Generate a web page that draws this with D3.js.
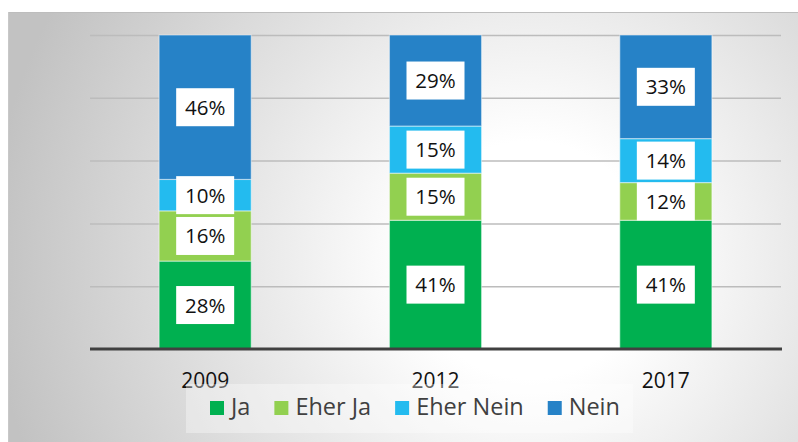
<!DOCTYPE html>
<html><head><meta charset="utf-8">
<script src="https://cdn.jsdelivr.net/npm/d3@7"></script>
<style>html,body{margin:0;padding:0;background:#fff;}svg{display:block;}</style>
</head><body>
<svg id="c" width="798" height="442"></svg>
<script>
const years = ["2009", "2012", "2017"];
const seriesNames = ["Ja", "Eher Ja", "Eher Nein", "Nein"];
const ja = [0.28, 0.41, 0.41];
const eherJa = [0.16, 0.15, 0.12];
const eherNein = [0.10, 0.15, 0.14];
const nein = [0.46, 0.29, 0.33];
const yTicks = [0, 0.2, 0.4, 0.6, 0.8, 1.0];
const colors = ["#00b050", "#92d050", "#23bbef", "#2682c7"];

const svg = d3.select("#c");
const defs = svg.append("defs");
const rg = defs.append("radialGradient").attr("id", "bg")
  .attr("gradientUnits", "userSpaceOnUse")
  .attr("cx", 530).attr("cy", 260).attr("r", 540);
rg.append("stop").attr("offset", "0").attr("stop-color", "#ffffff");
rg.append("stop").attr("offset", "0.22").attr("stop-color", "#ffffff");
rg.append("stop").attr("offset", "1").attr("stop-color", "#c2c2c2");

svg.append("rect").attr("x", 8).attr("y", 12).attr("width", 790).attr("height", 430)
  .attr("fill", "url(#bg)");
svg.append("line").attr("x1", 8).attr("x2", 798).attr("y1", 12.5).attr("y2", 12.5)
  .attr("stroke", "#bdbdbd").attr("stroke-width", 1);
svg.append("line").attr("x1", 8.5).attr("x2", 8.5).attr("y1", 12).attr("y2", 442)
  .attr("stroke", "#c8c8c8").attr("stroke-width", 1);

const x = d3.scaleBand().domain(years).range([90, 781]).paddingInner(0.6).paddingOuter(0.3);
const y = d3.scaleLinear().domain([0, 1]).range([349, 35]);

// gridlines
const yAxis = d3.axisLeft(y).tickValues(yTicks.slice(1)).tickSize(-(781 - 90)).tickFormat("");
const gy = svg.append("g").attr("transform", "translate(90,0)").call(yAxis);
gy.select(".domain").remove();
gy.selectAll(".tick line").attr("stroke", "#bcbcbc").attr("stroke-width", 1.5);

const rows = years.map((yr, i) => ({year: yr, "Ja": ja[i], "Eher Ja": eherJa[i], "Eher Nein": eherNein[i], "Nein": nein[i]}));
const stacked = d3.stack().keys(seriesNames)(rows);

const gBars = svg.append("g");
stacked.forEach((s, si) => {
  gBars.selectAll(null).data(s).enter().append("rect")
    .attr("x", d => x(d.data.year))
    .attr("width", x.bandwidth())
    .attr("y", d => y(d[1]))
    .attr("height", d => y(d[0]) - y(d[1]))
    .attr("fill", colors[si])
    .attr("stroke", "rgba(255,255,255,0.45)")
    .attr("stroke-width", 1.2);
});

// labels
const gLab = svg.append("g");
stacked.forEach((s, si) => {
  s.forEach(d => {
    const cx = x(d.data.year) + x.bandwidth() / 2;
    const cy = (y(d[0]) + y(d[1])) / 2;
    gLab.append("rect").attr("x", cx - 29).attr("y", cy - 19).attr("width", 58).attr("height", 38)
      .attr("fill", "#ffffff");
    gLab.append("text").attr("x", cx).attr("y", cy + 7.5)
      .attr("text-anchor", "middle")
      .attr("font-family", "Open Sans, sans-serif").attr("font-size", 20.5)
      .attr("fill", "#111111")
      .text(Math.round((d[1] - d[0]) * 100) + "%");
  });
});

// baseline axis
const xAxis = d3.axisBottom(x).tickSize(0).tickPadding(0);
const gx = svg.append("g").attr("transform", "translate(0,349)").call(xAxis);
gx.select(".domain").remove();
gx.selectAll(".tick text").attr("font-family", "Open Sans, sans-serif").attr("font-size", 21)
  .attr("fill", "#111111").attr("dy", null).attr("y", 39);
svg.append("line").attr("x1", 90).attr("x2", 782).attr("y1", 349).attr("y2", 349)
  .attr("stroke", "#404040").attr("stroke-width", 3);

// legend
const gLeg = svg.append("g");
gLeg.append("rect").attr("x", 186).attr("y", 384).attr("width", 447).attr("height", 49)
  .attr("fill", "#ffffff").attr("opacity", 0.35);
let lx = 210;
seriesNames.forEach((n, i) => {
  gLeg.append("rect").attr("x", lx).attr("y", 401).attr("width", 14).attr("height", 14)
    .attr("fill", colors[i]);
  const t = gLeg.append("text").attr("x", lx + 21).attr("y", 415)
    .attr("font-family", "Open Sans, sans-serif").attr("font-size", 23.5)
    .attr("fill", "#404040").text(n);
  lx = lx + 21 + t.node().getComputedTextLength() + 24;
});
</script>
</body></html>
